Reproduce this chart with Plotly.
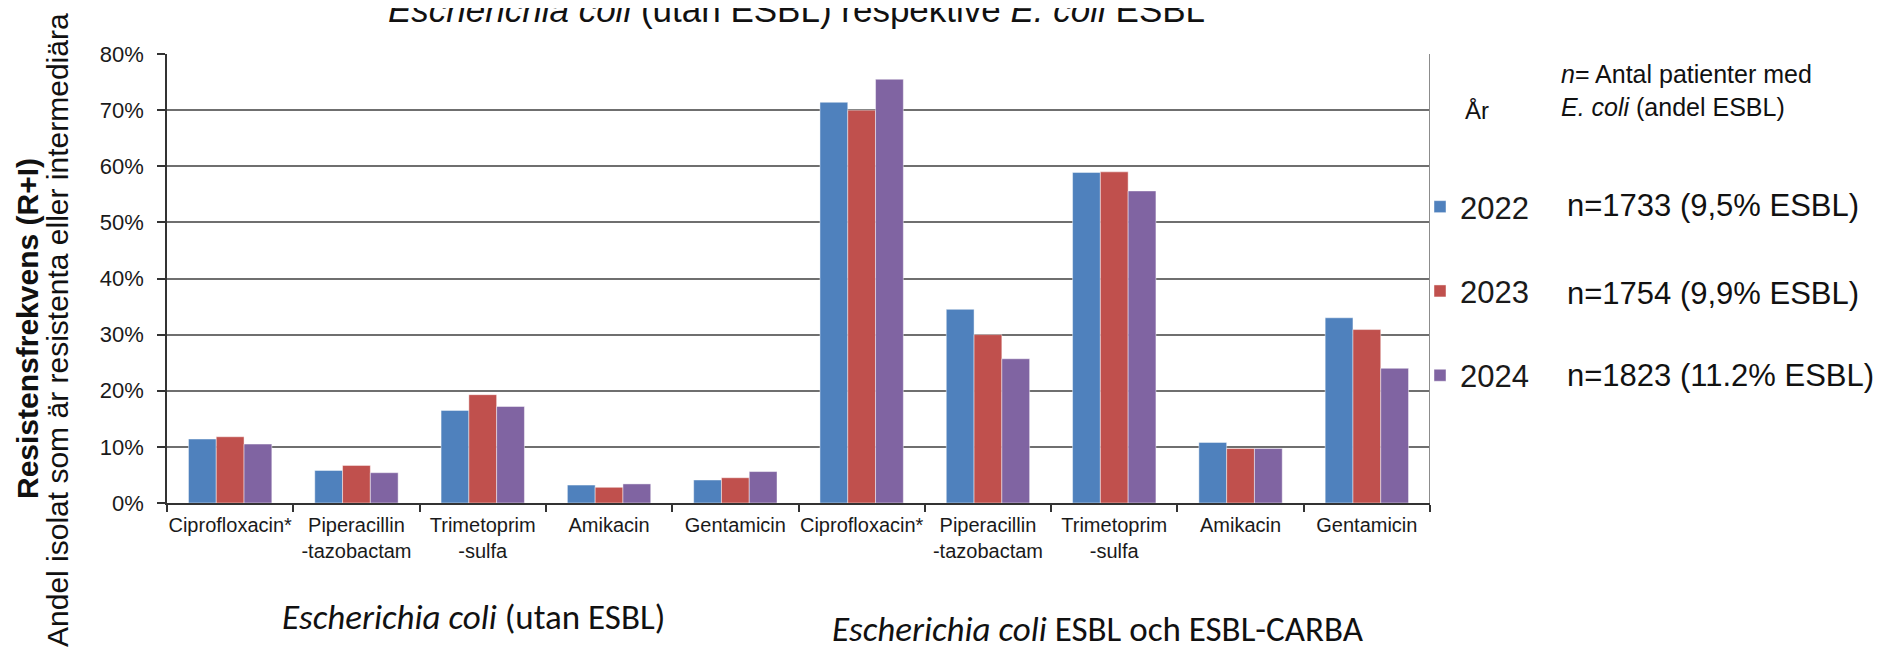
import plotly.graph_objects as go

# ---------------- data ----------------
categories = ["Ciprofloxacin*", "Piperacillin<br>-tazobactam", "Trimetoprim<br>-sulfa", "Amikacin", "Gentamicin",
              "Ciprofloxacin*", "Piperacillin<br>-tazobactam", "Trimetoprim<br>-sulfa", "Amikacin", "Gentamicin"]
years = ["2022", "2023", "2024"]
v2022 = [11.4, 5.8, 16.5, 3.2, 4.1, 71.4, 34.5, 58.9, 10.8, 33.0]
v2023 = [11.8, 6.7, 19.3, 2.8, 4.5, 70.0, 30.0, 59.0, 9.7, 30.9]
v2024 = [10.5, 5.4, 17.2, 3.4, 5.6, 75.5, 25.7, 55.6, 9.7, 24.0]
n_texts = ["n=1733 (9,5% ESBL)", "n=1754 (9,9% ESBL)", "n=1823 (11.2% ESBL)"]
y_ticks = [0, 10, 20, 30, 40, 50, 60, 70, 80]
colors = ["#4F81BD", "#C0504D", "#8064A2"]

# ---------------- layout geometry (pixels) ----------------
W, H = 1891, 649
L, R = 159, 1422      # plot area left/right
T, B = 46, 495        # plot area top/bottom
PW, PH = R - L, B - T

def px_x(x):
    return (x - L) / PW

def px_y(y):
    return (B - y) / PH

ARIAL = "Liberation Sans, Arial, sans-serif"
CALIBRI = "Carlito, Lato, sans-serif"

fig = go.Figure()
xs = list(range(len(categories)))
for yr, vals, col in zip(years, [v2022, v2023, v2024], colors):
    fig.add_trace(go.Bar(
        x=xs, y=vals, name=yr, legendgroup=yr,
        marker=dict(color=col, line=dict(color="rgba(255,255,255,0.45)", width=1)),
        hoverinfo="x+y",
    ))

fig.update_layout(
    width=W, height=H,
    margin=dict(l=L, r=W - R, t=T, b=H - B, pad=0),
    paper_bgcolor="white", plot_bgcolor="white",
    barmode="group", bargap=0.34, bargroupgap=0,
    font=dict(family=ARIAL, color="#1a1a1a"),
    showlegend=True,
    legend=dict(
        x=px_x(1412), xanchor="left", y=px_y(172), yanchor="top",
        font=dict(family=ARIAL, size=31, color="#1a1a1a"),
        tracegroupgap=41, bgcolor="rgba(0,0,0,0)", borderwidth=0,
        itemwidth=30,
    ),
)

fig.update_xaxes(
    range=[-0.5, 9.5], tickmode="array", tickvals=xs, ticktext=categories,
    ticks="", showgrid=False, zeroline=False,
    showline=True, linecolor="#333333", linewidth=2,
    tickfont=dict(family=ARIAL, size=20, color="#1a1a1a"),
    ticklabelstandoff=3,
    minor=dict(tickmode="array", tickvals=[i - 0.5 for i in range(11)], ticks="outside",
               ticklen=7, tickwidth=1.5, tickcolor="#333333", showgrid=False),
    fixedrange=True,
)
fig.update_yaxes(
    range=[0, 80], tickmode="array", tickvals=y_ticks, ticktext=[f"{t}%" for t in y_ticks],
    showgrid=True, gridcolor="#6f6f6f", gridwidth=1.5, zeroline=False,
    showline=True, linecolor="#333333", linewidth=1.5,
    ticks="outside", ticklen=8, tickwidth=1.5, tickcolor="#333333",
    tickfont=dict(family=ARIAL, size=22, color="#1a1a1a"),
    ticklabelstandoff=9,
    fixedrange=True,
)

# right frame line of plot area
fig.add_shape(type="line", xref="x", yref="y", x0=9.5, x1=9.5, y0=0, y1=80,
              line=dict(color="#8c8c8c", width=2))
# outer right border line of the picture
fig.add_shape(type="line", xref="paper", yref="paper", x0=px_x(1888), x1=px_x(1888),
              y0=px_y(H), y1=px_y(0), line=dict(color="#111111", width=2))

ann = []
ann.append(dict(text="<i>Escherichia coli</i> (utan ESBL) respektive <i>E. coli</i> ESBL",
                x=px_x(788), y=px_y(1), xanchor="center", yanchor="middle",
                font=dict(family=ARIAL, size=35, color="#111111")))
ann.append(dict(text="<b>Resistensfrekvens (R+I)</b>", textangle=-90,
                x=px_x(19), y=px_y(321), xanchor="center", yanchor="middle",
                font=dict(family=ARIAL, size=30, color="#111111")))
ann.append(dict(text="Andel isolat som är resistenta eller intermediära", textangle=-90,
                x=px_x(49), y=px_y(322), xanchor="center", yanchor="middle",
                font=dict(family=ARIAL, size=30, color="#111111")))
ann.append(dict(text="<i>Escherichia coli</i> (utan ESBL)",
                x=px_x(465), y=px_y(609), xanchor="center", yanchor="middle",
                font=dict(family=CALIBRI, size=35, color="#111111")))
ann.append(dict(text="<i>Escherichia coli</i> ESBL och ESBL-CARBA",
                x=px_x(1090), y=px_y(621), xanchor="center", yanchor="middle",
                font=dict(family=CALIBRI, size=35, color="#111111")))
ann.append(dict(text="År", x=px_x(1455), y=px_y(102), xanchor="left", yanchor="middle",
                font=dict(family=ARIAL, size=24, color="#111111")))
ann.append(dict(text="<i>n</i>= Antal patienter med<br><i>E. coli</i> (andel ESBL)", align="left",
                x=px_x(1551), y=px_y(82), xanchor="left", yanchor="middle",
                font=dict(family=ARIAL, size=25, color="#111111")))
for txt, yc in zip(n_texts, [197, 285, 367]):
    ann.append(dict(text=txt, x=px_x(1557), y=px_y(yc), xanchor="left", yanchor="middle",
                    font=dict(family=ARIAL, size=31, color="#111111")))
for a in ann:
    a.update(xref="paper", yref="paper", showarrow=False)
fig.update_layout(annotations=ann)

fig.write_html("out.html")
